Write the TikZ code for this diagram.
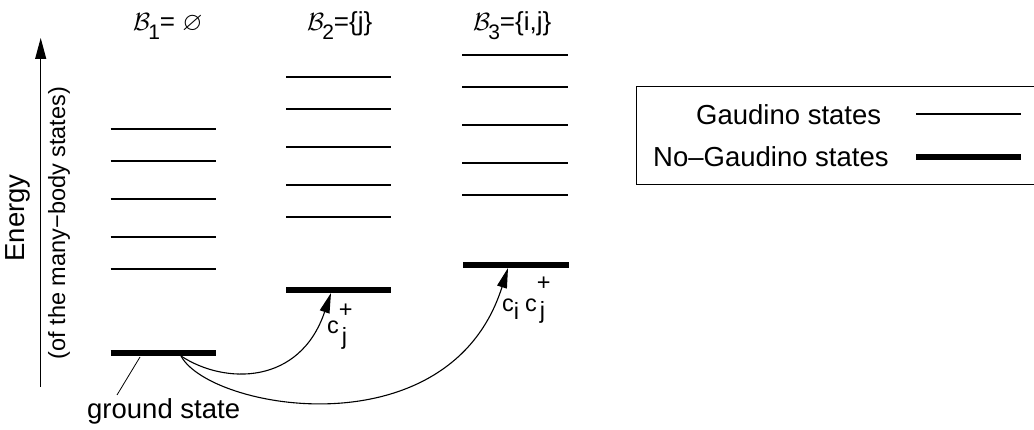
\documentclass[tikz,border=0pt]{standalone}
\usepackage{amssymb}
\usepackage{fontspec}
\setmainfont{Liberation Sans}
\usetikzlibrary{arrows.meta}
\begin{document}
\begin{tikzpicture}[x=1pt,y=-1pt,
  thinlevel/.style={line width=1.2pt},
  thicklevel/.style={line width=5.5pt},
  lbl/.style={inner sep=0pt, font=\fontsize{27.5}{30}\selectfont},
  smalllbl/.style={inner sep=0pt, font=\fontsize{23.5}{26}\selectfont},
  titlelbl/.style={inner sep=0pt, font=\fontsize{26}{30}\selectfont},
  arrowtip/.style={-{Triangle[length=20pt,width=10pt]}, line width=1.1pt},
]
\useasboundingbox (0,0) rectangle (1034,430);

% energy axis
\coordinate (axb) at (40.7,387);
\coordinate (axt) at (40.7,38);
\draw[line width=1.1pt, -{Triangle[length=21pt,width=11pt]}] (axb) -- (axt);
\node[lbl, rotate=90] (en) at (18,218) {Energy};
\node[smalllbl, rotate=90] (en2) at (59,223) {(of the many−body states)};

% titles
\def\sub#1{\kern-2pt\raisebox{-9pt}{\fontsize{21}{24}\selectfont #1}}
\node[titlelbl, anchor=base west] (b1) at (133,31) {$\mathcal{B}$\sub{1}= $\varnothing$};
\node[titlelbl, anchor=base west] (b2) at (307,31) {$\mathcal{B}$\sub{2}=\{j\}};
\node[titlelbl, anchor=base west] (b3) at (473,31) {$\mathcal{B}$\sub{3}=\{i,j\}};

% Gaudino levels
\foreach \y in {129,161,199,237,269} {
  \draw[thinlevel] (110.7,\y) -- (215.7,\y);
  \draw[thinlevel] (286,\y-52) -- (391,\y-52);
  \draw[thinlevel] (462,\y-74) -- (568,\y-74);
}
% No-Gaudino levels
\draw[thicklevel] (110.7,353) -- (215.7,353);
\draw[thicklevel] (286,290) -- (391,290);
\draw[thicklevel] (463,265) -- (569,265);

\coordinate (g) at (181,356);
\coordinate (t2) at (331,293);
\coordinate (t3) at (508,268);
\draw[arrowtip] (g) .. controls (225,385) and (300,385) .. (t2);
\draw[arrowtip] (g) .. controls (210,410) and (450,452) .. (t3);

\node[smalllbl, anchor=base west] (op2) at (327,334)
  {c\rlap{\kern3pt\raisebox{-11pt}{j}}\raisebox{16pt}{+}};
\node[smalllbl, anchor=base west] (op3) at (502,312)
  {c\raisebox{-8pt}{i}\kern6pt c\rlap{\kern3pt\raisebox{-7pt}{j}}\raisebox{21pt}{+}};

% ground state pointer
\coordinate (gp) at (140,357);
\coordinate (gq) at (117,395);
\draw[line width=0.8pt] (gp) -- (gq);
\node[lbl, anchor=base west] (gs) at (87,418) {ground state};

% legend
\draw[line width=1pt] (636,87) rectangle (1037,185);
\node[lbl, anchor=base west] (lg1) at (696,125) {Gaudino states};
\node[lbl, anchor=base west] (lg2) at (653,167) {No–Gaudino states};
\coordinate (l1a) at (916,114);
\coordinate (l1b) at (1021,114);
\coordinate (l2a) at (916,157);
\coordinate (l2b) at (1021,157);
\draw[thinlevel] (l1a) -- (l1b);
\draw[line width=6pt] (l2a) -- (l2b);
\end{tikzpicture}
\end{document}
